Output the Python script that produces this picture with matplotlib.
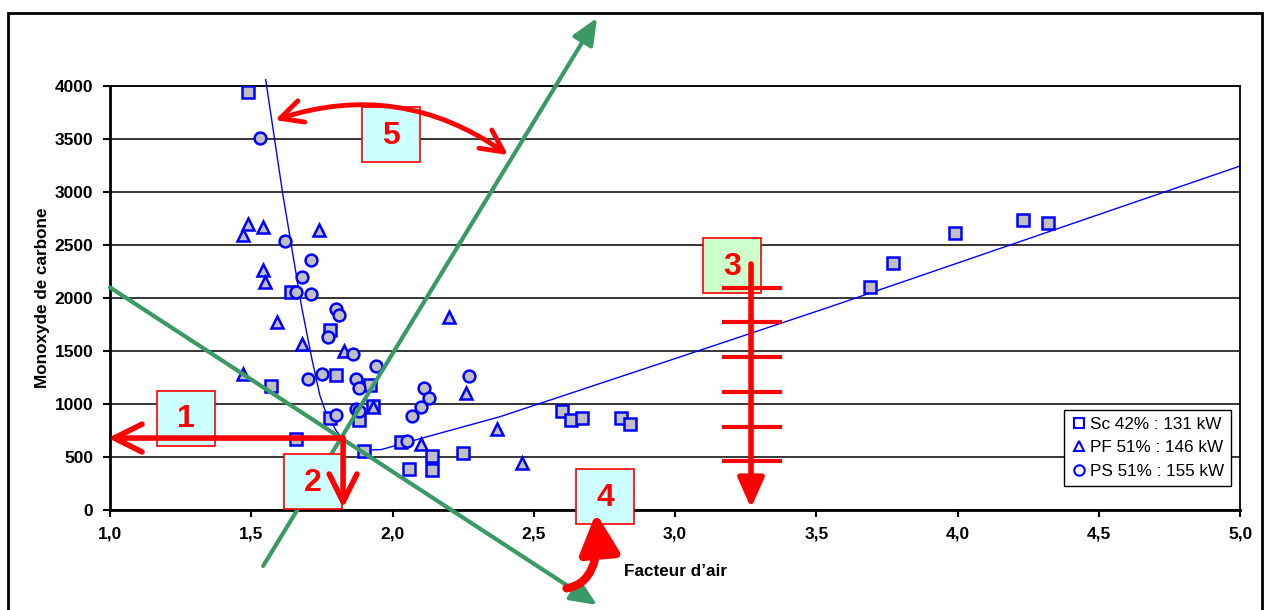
import matplotlib
matplotlib.use('Agg')
import matplotlib.pyplot as plt
from matplotlib.patches import FancyArrowPatch, Rectangle
from matplotlib.lines import Line2D

plt.rcParams['font.family'] = ['Liberation Sans', 'DejaVu Sans']

# --- data ---
sc_x = [1.49, 1.64, 1.57, 1.66, 1.78, 1.80, 1.78, 1.88, 1.92, 1.93, 1.90, 2.03, 2.14,
        2.25, 2.06, 2.14, 2.60, 2.63, 2.67, 2.81, 2.84, 3.69, 3.77, 3.99, 4.23, 4.32]
sc_y = [3940, 2060, 1170, 670, 1700, 1270, 865, 850, 1175, 980, 560, 640, 505,
        535, 390, 380, 930, 845, 865, 865, 815, 2100, 2335, 2610, 2735, 2710]

pf_x = [1.49, 1.54, 1.47, 1.74, 1.54, 1.55, 1.59, 1.68, 1.83, 1.47, 2.20, 2.26,
        2.10, 2.37, 1.93, 2.46]
pf_y = [2700, 2670, 2590, 2640, 2260, 2150, 1775, 1570, 1500, 1285, 1825, 1105,
        620, 765, 975, 445]

ps_x = [1.53, 1.62, 1.71, 1.68, 1.66, 1.71, 1.80, 1.81, 1.77, 1.86, 1.94, 1.75,
        1.70, 1.87, 1.88, 1.80, 1.87, 1.88, 2.11, 2.13, 2.10, 2.07, 2.27, 2.05]
ps_y = [3510, 2540, 2355, 2200, 2055, 2040, 1900, 1840, 1630, 1470, 1360, 1285,
        1235, 1240, 1155, 895, 950, 935, 1150, 1055, 970, 885, 1260, 655]

# trend curve drawn in the chart
fit_x = [1.551, 1.611, 1.678, 1.715, 1.743, 1.76, 1.78, 1.80, 1.82, 1.85, 1.88,
         1.92, 1.96, 2.02, 2.10, 2.38, 3.02, 3.55, 5.0]
fit_y = [4060, 2990, 1920, 1420, 1080, 950, 850, 750, 680, 620, 585,
         566, 570, 615, 675, 880, 1446, 1918, 3245]

x_ticks = [1.0, 1.5, 2.0, 2.5, 3.0, 3.5, 4.0, 4.5, 5.0]
x_labels = ['1,0', '1,5', '2,0', '2,5', '3,0', '3,5', '4,0', '4,5', '5,0']
y_ticks = [0, 500, 1000, 1500, 2000, 2500, 3000, 3500, 4000]
labels = ['Sc 42% : 131 kW', 'PF 51% : 146 kW', 'PS 51% : 155 kW']

fig = plt.figure(figsize=(12.66, 6.10), dpi=100)
ax = fig.add_axes([0.0869, 0.1639, 0.8926, 0.6951])

# outer frame
fig.patches.append(Rectangle((0.0063, -0.05), 0.9905, 1.0287, transform=fig.transFigure,
                             fill=False, lw=2, ec='black'))

ax.set_xlim(1.0, 5.0)
ax.set_ylim(0, 4000)
ax.set_xticks(x_ticks)
ax.set_xticklabels(x_labels)
ax.set_yticks(y_ticks)
ax.tick_params(labelsize=12.5, width=1.5, length=5, pad=7)
for t in ax.get_xticklabels() + ax.get_yticklabels():
    t.set_fontweight('bold')
ax.grid(axis='y', color='black', lw=1.1)
ax.set_axisbelow(True)
for s in ['left', 'bottom']:
    ax.spines[s].set_linewidth(2)
for s in ['top', 'right']:
    ax.spines[s].set_linewidth(1.3)

ax.set_xlabel('Facteur d\u2019air', fontsize=12.3, fontweight='bold', labelpad=16)
ax.set_ylabel('Monoxyde de carbone', fontsize=12.3, fontweight='bold', labelpad=3)

ax.plot(fit_x, fit_y, color='blue', lw=1, clip_on=False, zorder=3)

mk = dict(ls='none', mfc='#c0c0c0', mec='blue', mew=1.8, zorder=3)
ax.plot(sc_x, sc_y, marker='s', ms=8, **mk)
ax.plot(pf_x, pf_y, marker='^', ms=8.5, **mk)
ax.plot(ps_x, ps_y, marker='o', ms=8.5, **mk)

handles = [Line2D([], [], ls='none', marker=m, ms=7.5, mfc='white', mec='blue', mew=1.5)
           for m in ['s', '^', 'o']]
leg = ax.legend(handles, labels, loc='upper right', bbox_to_anchor=(0.992, 0.236),
                fontsize=12.3, frameon=True, fancybox=False, edgecolor='black',
                framealpha=1, handletextpad=0.15, handlelength=1.0, borderpad=0.4,
                labelspacing=0.5, borderaxespad=0)
leg.get_frame().set_linewidth(1)
leg.set_zorder(10)


def arrow(p0, p1, style, lw, color, ms=20, conn='arc3', z=7):
    a = FancyArrowPatch(p0, p1, arrowstyle=style, mutation_scale=ms, lw=lw, color=color,
                        connectionstyle=conn, clip_on=False, zorder=z, shrinkA=0, shrinkB=0)
    ax.add_patch(a)


def box(x0, y0, label, fc):
    ax.add_patch(Rectangle((x0, y0), 0.205, 519, fc=fc, ec='red', lw=1.2,
                           clip_on=False, zorder=5))
    ax.text(x0 + 0.1025, y0 + 250, label, color='red', fontsize=23, fontweight='bold',
            ha='center', va='center', zorder=6, clip_on=False)


green = '#3a9a66'
arrow((1.542, -528), (2.724, 4642), '-|>,head_length=0.8,head_width=0.35', 3, green, z=4)
arrow((1.0, 2100), (2.724, -896), '-|>,head_length=0.8,head_width=0.35', 3, green, z=4)

box(1.166, 604, '1', '#ccffff')
box(1.616, 9, '2', '#ccffff')
box(3.099, 2047, '3', '#ccffcc')
box(2.65, -132, '4', '#ccffff')
box(1.892, 3283, '5', '#ccffff')

arrow((1.825, 679), (0.993, 679), '->,head_length=1.0,head_width=0.5', 4, 'red')
arrow((1.825, 679), (1.825, 19), '->,head_length=1.0,head_width=0.5', 4, 'red')
arrow((3.269, 2321), (3.269, 19), '-|>,head_length=0.9,head_width=0.4', 4, 'red')
ax.hlines([2097, 1771, 1440, 1110, 783, 461], 3.165, 3.38, colors='red', lw=3,
          clip_on=False, zorder=7)
arrow((2.616, -739), (2.72, -28), '-|>,head_length=1.2,head_width=0.6', 6, 'red',
      conn='angle3,angleA=10,angleB=95')
arrow((1.584, 3679), (2.409, 3349), '<->,head_length=0.8,head_width=0.4', 3.5, 'red',
      conn='arc3,rad=-0.25')

fig.savefig('out.png', dpi=100)
